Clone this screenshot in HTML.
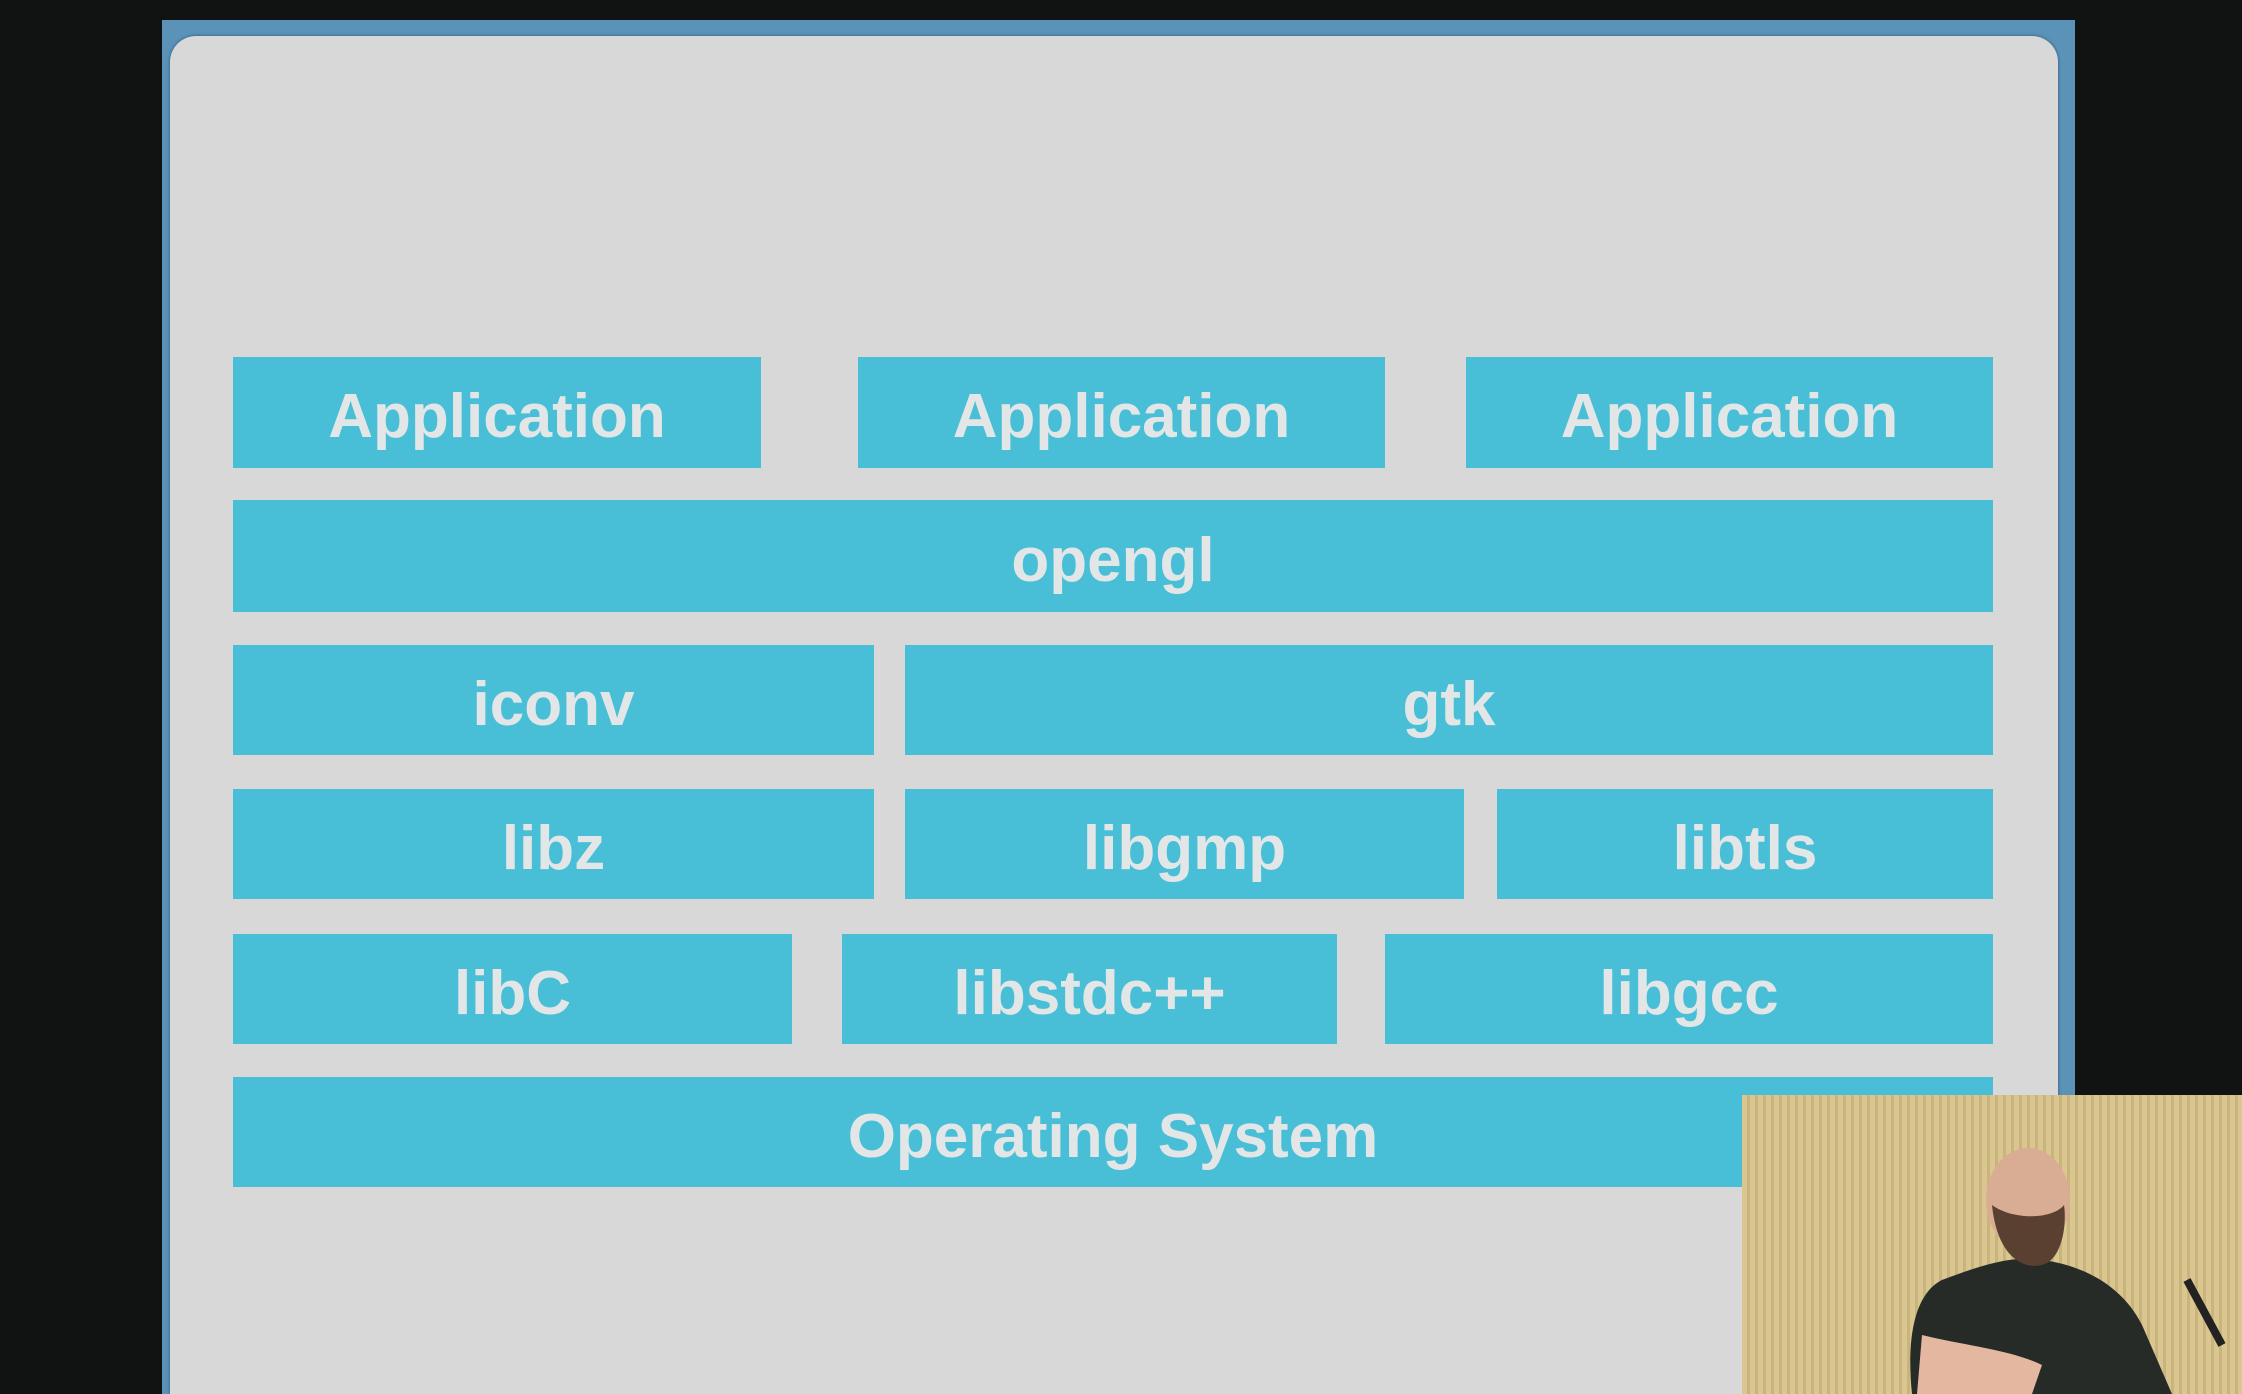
<!DOCTYPE html>
<html><head><meta charset="utf-8"><style>
html,body{margin:0;padding:0;width:2242px;height:1394px;overflow:hidden}
body{background:#111312;position:relative;font-family:"Liberation Sans",Arial,sans-serif}
.frame{position:absolute;left:162px;top:20px;width:1913px;height:1374px;background:#5b92b8}
.slide{position:absolute;left:170px;top:36px;width:1888px;height:1358px;background:#d7d8d7;border-radius:26px 26px 0 0;box-shadow:0 0 3px #2d5573}
.b{position:absolute;background:#48bfd6;color:#e3e6e6;font-weight:bold;font-size:62px;display:flex;align-items:center;justify-content:center;box-sizing:border-box;padding-top:8px}
.vid{position:absolute;left:1742px;top:1095px;width:500px;height:299px;background:repeating-linear-gradient(90deg,#d9c690 0 5px,#c9b47c 5px 8px);overflow:hidden}
</style></head><body>
<div class="frame"></div>
<div class="slide"></div>
<div class="b" style="left:233px;top:357px;width:528px;height:111px">Application</div>
<div class="b" style="left:858px;top:357px;width:527px;height:111px">Application</div>
<div class="b" style="left:1466px;top:357px;width:527px;height:111px">Application</div>
<div class="b" style="left:233px;top:500px;width:1760px;height:112px">opengl</div>
<div class="b" style="left:233px;top:645px;width:641px;height:110px">iconv</div>
<div class="b" style="left:905px;top:645px;width:1088px;height:110px">gtk</div>
<div class="b" style="left:233px;top:789px;width:641px;height:110px">libz</div>
<div class="b" style="left:905px;top:789px;width:559px;height:110px">libgmp</div>
<div class="b" style="left:1497px;top:789px;width:496px;height:110px">libtls</div>
<div class="b" style="left:233px;top:934px;width:559px;height:110px">libC</div>
<div class="b" style="left:842px;top:934px;width:495px;height:110px">libstdc++</div>
<div class="b" style="left:1385px;top:934px;width:608px;height:110px">libgcc</div>
<div class="b" style="left:233px;top:1077px;width:1760px;height:110px">Operating System</div>
<div class="vid">
<svg width="500" height="299" viewBox="0 0 500 299">
<path d="M170 299 C165 250 170 200 200 185 C240 170 270 160 300 165 C340 170 380 190 400 230 L430 299 Z" fill="#262b28"/>
<ellipse cx="286" cy="105" rx="42" ry="52" fill="#d9ad94"/>
<path d="M250 110 C255 160 280 175 300 170 C320 165 325 130 322 110 C310 125 270 125 250 110Z" fill="#5a4030"/>
<path d="M180 240 C220 250 270 255 300 270 L290 299 L175 299 Z" fill="#e3b7a0"/>
<line x1="445" y1="185" x2="480" y2="250" stroke="#222" stroke-width="8"/>
</svg>
</div>
</body></html>
